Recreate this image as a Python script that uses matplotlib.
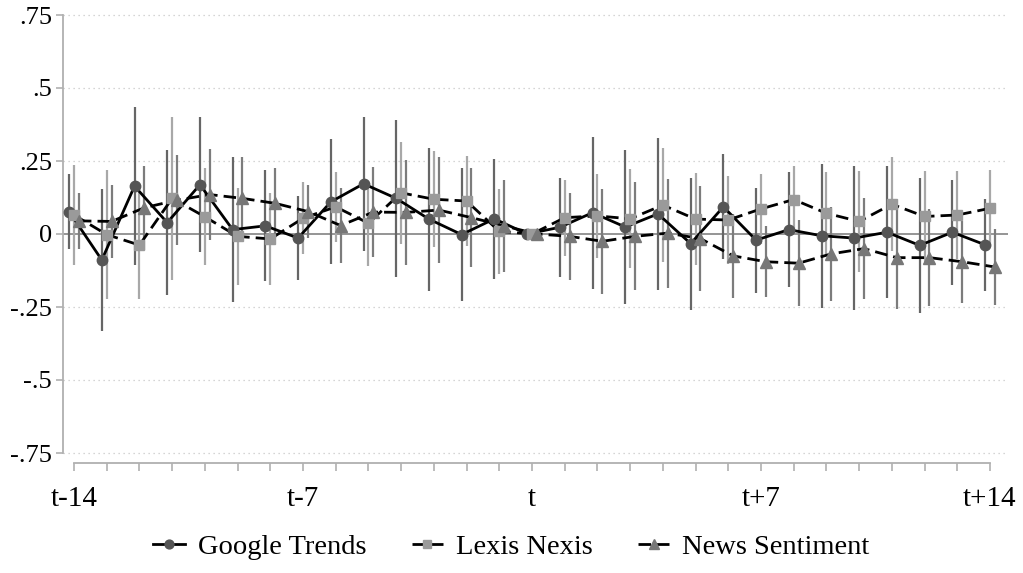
import numpy as np
import matplotlib
matplotlib.use("Agg")
import matplotlib.pyplot as plt

plt.rcParams['font.family'] = ['Liberation Serif', 'DejaVu Serif']

# Event time relative to the announcement day
periods = list(range(-14, 15))

# Point estimates and 95% CI half-widths per series
google = [0.077, -0.089, 0.164, 0.039, 0.169, 0.015, 0.028, -0.014, 0.110, 0.172,
          0.122, 0.051, -0.002, 0.052, 0.000, 0.023, 0.073, 0.024, 0.069, -0.033,
          0.093, -0.021, 0.015, -0.006, -0.014, 0.006, -0.039, 0.006, -0.037]
google_ci = [0.128, 0.242, 0.270, 0.249, 0.230, 0.247, 0.190, 0.145, 0.214, 0.230,
             0.268, 0.245, 0.228, 0.205, 0.0, 0.170, 0.260, 0.263, 0.260, 0.226,
             0.180, 0.180, 0.196, 0.247, 0.246, 0.226, 0.230, 0.180, 0.158]

lexis = [0.065, -0.002, -0.038, 0.122, 0.059, -0.008, -0.017, 0.054, 0.093, 0.037,
         0.141, 0.119, 0.113, 0.009, 0.000, 0.056, 0.062, 0.052, 0.099, 0.051,
         0.048, 0.086, 0.118, 0.071, 0.043, 0.102, 0.060, 0.065, 0.088]
lexis_ci = [0.170, 0.222, 0.186, 0.280, 0.166, 0.165, 0.158, 0.123, 0.120, 0.146,
            0.175, 0.165, 0.154, 0.145, 0.0, 0.130, 0.145, 0.170, 0.196, 0.157,
            0.150, 0.120, 0.116, 0.143, 0.172, 0.160, 0.155, 0.150, 0.130]

news = [0.045, 0.043, 0.090, 0.116, 0.135, 0.122, 0.105, 0.077, 0.029, 0.075,
        0.074, 0.082, 0.056, 0.028, 0.000, -0.008, -0.025, -0.008, 0.003, -0.016,
        -0.075, -0.095, -0.100, -0.068, -0.050, -0.081, -0.081, -0.095, -0.113]
news_ci = [0.095, 0.125, 0.144, 0.155, 0.155, 0.143, 0.120, 0.090, 0.130, 0.155,
           0.180, 0.183, 0.170, 0.158, 0.0, 0.148, 0.180, 0.185, 0.187, 0.180,
           0.145, 0.122, 0.148, 0.160, 0.173, 0.175, 0.167, 0.140, 0.130]

series_names = ["Google Trends", "Lexis Nexis", "News Sentiment"]
y_ticks = [-0.75, -0.5, -0.25, 0, 0.25, 0.5, 0.75]
y_tick_labels = ["-.75", "-.5", "-.25", "0", ".25", ".5", ".75"]
x_label_ticks = [-14, -7, 0, 7, 14]
x_tick_labels = ["t-14", "t-7", "t", "t+7", "t+14"]

fig = plt.figure(figsize=(10.23, 5.73), dpi=100)
ax = fig.add_axes([63 / 1023, 1 - 453 / 573, (1008 - 63) / 1023, (453 - 15) / 573])

t = np.array(periods, dtype=float)
styles = [
    dict(vals=google, ci=google_ci, shift=-0.15, marker='o', ms=7.5,
         mfc='#555555', ecol='#666666', ls='-'),
    dict(vals=lexis, ci=lexis_ci, shift=0.0, marker='s', ms=7.5,
         mfc='#9a9a9a', ecol='#a8a8a8', ls=(0, (4.5, 2.2))),
    dict(vals=news, ci=news_ci, shift=0.15, marker='^', ms=8.5,
         mfc='#777777', ecol='#7c7c7c', ls=(0, (4.5, 2.2))),
]

# Reference lines
ax.axhline(0, color='#8c8c8c', lw=1.3, zorder=1)
for yv in y_ticks:
    if yv != 0:
        ax.axhline(yv, color='#c8c8c8', lw=0.9, ls=(0, (1, 3)), zorder=0, clip_on=False)

handles = []
for st, name in zip(styles, series_names):
    xs = t + st['shift']
    vals = np.array(st['vals'])
    ci = np.array(st['ci'])
    mask = ci > 0
    ax.vlines(xs[mask], (vals - ci)[mask], (vals + ci)[mask],
              color=st['ecol'], lw=1.6, zorder=2)
    ax.plot(xs, vals, color='black', lw=2.0, ls=st['ls'], zorder=3)
    ax.plot(xs, vals, ls='none', marker=st['marker'], ms=st['ms'],
            mfc=st['mfc'], mec=st['mfc'], zorder=4)
    h, = ax.plot([], [], color='black', lw=2.0, ls=st['ls'], marker=st['marker'],
                 ms=st['ms'] * 0.85, mfc=st['mfc'], mec=st['mfc'])
    handles.append(h)

ax.set_xlim(-14 - 11 / 32.7, 14 + 18 / 32.7)
ax.set_ylim(-0.75, 0.75)

for side in ('top', 'right'):
    ax.spines[side].set_visible(False)
ax.spines['left'].set_color('#b0b0b0')
ax.spines['left'].set_linewidth(1.3)
ax.spines['left'].set_bounds(-0.75, 0.75)
ax.spines['bottom'].set_color('#b0b0b0')
ax.spines['bottom'].set_linewidth(1.3)
ax.spines['bottom'].set_position(('outward', 7))
ax.spines['bottom'].set_bounds(-14, 14)

ax.set_yticks(y_ticks)
ax.set_yticklabels(y_tick_labels)
ax.set_xticks(periods)
ax.set_xticklabels([x_tick_labels[x_label_ticks.index(p)] if p in x_label_ticks else ''
                    for p in periods])
ax.tick_params(axis='y', length=5, width=1.2, color='#b0b0b0', labelsize=19, pad=3)
ax.tick_params(axis='x', length=6, width=1.2, color='#b0b0b0', labelsize=21, pad=11)

fig.legend(handles, series_names, loc='center', bbox_to_anchor=(0.5, 1 - 547 / 573),
           ncol=3, frameon=False, fontsize=20.5, handlelength=1.1, handletextpad=0.45,
           columnspacing=1.6)

fig.savefig('out.png', dpi=100)
